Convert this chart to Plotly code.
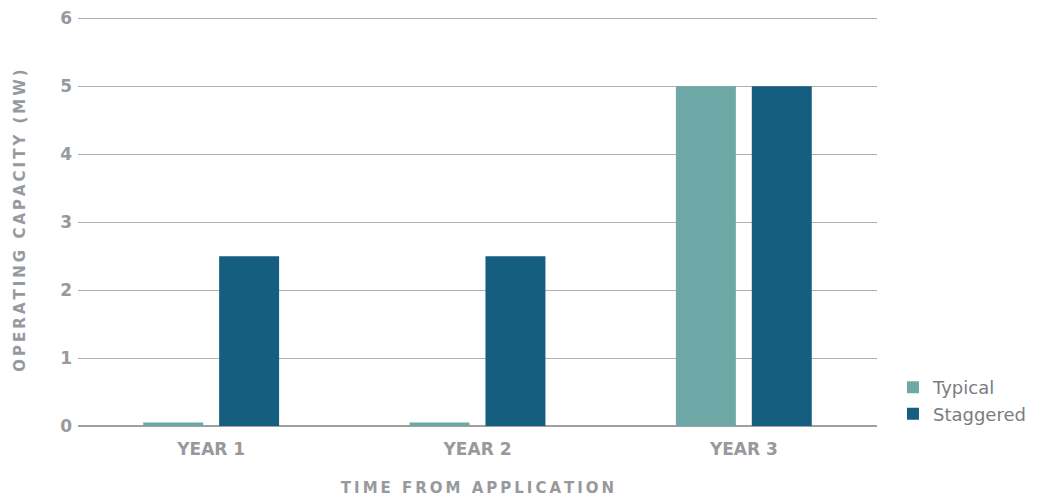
import plotly.graph_objects as go

categories = ["YEAR 1", "YEAR 2", "YEAR 3"]
typical = [0.05, 0.05, 5]
staggered = [2.5, 2.5, 5]
series_names = ["Typical", "Staggered"]
y_ticks = [0, 1, 2, 3, 4, 5, 6]

def spaced(s):
    return "\u2009".join(s)

TICK_GRAY = "#97999c"
FONT = "DejaVu Sans"

fig = go.Figure()
fig.add_trace(go.Bar(x=categories, y=typical, name=series_names[0],
                     marker=dict(color="#6ea8a6", line=dict(width=0))))
fig.add_trace(go.Bar(x=categories, y=staggered, name=series_names[1],
                     marker=dict(color="#165e80", line=dict(width=0))))

fig.update_layout(
    width=1044, height=498,
    margin=dict(l=78, r=167, t=15, b=72),
    paper_bgcolor="white", plot_bgcolor="white",
    barmode="group", bargap=0.43, bargroupgap=0.21,
    font=dict(family=FONT, color=TICK_GRAY),
    showlegend=True,
    legend=dict(x=1.02, xanchor="left", y=-0.015, yanchor="bottom",
                font=dict(family=FONT, size=18, color="#7a7c80"),
                tracegroupgap=0, itemwidth=30, traceorder="normal",
                bgcolor="rgba(0,0,0,0)"),
    xaxis=dict(
        showgrid=False, showline=False, zeroline=False, automargin=False,
        tickfont=dict(family=FONT, size=17, color=TICK_GRAY, weight="bold"),
        ticks="", ticklabelstandoff=11,
        title=dict(text=spaced("TIME FROM APPLICATION"),
                   font=dict(family=FONT, size=15, color=TICK_GRAY, weight="bold"),
                   standoff=24),
    ),
    yaxis=dict(
        range=[0, 6.05], tickvals=y_ticks, automargin=False,
        showgrid=True, gridcolor="#b0b0b0", gridwidth=1,
        zeroline=True, zerolinecolor="#a0a0a0", zerolinewidth=2,
        showline=False, ticks="", ticklabelstandoff=5,
        tickfont=dict(family=FONT, size=17, color=TICK_GRAY, weight="bold"),
        title=dict(text=spaced("OPERATING CAPACITY (MW)"),
                   font=dict(family=FONT, size=15, color=TICK_GRAY, weight="bold"),
                   standoff=30),
    ),
)

fig.write_html("out.html")
